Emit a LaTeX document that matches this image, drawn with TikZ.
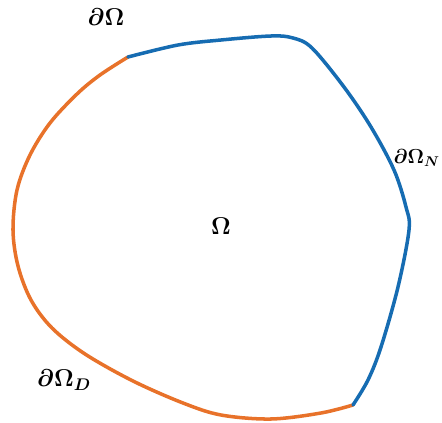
\documentclass[tikz,border=0pt]{standalone}
\usepackage{amsmath, amssymb, bm}
\usepackage{xcolor}
\usepackage{tikz}
\usetikzlibrary{positioning, calc}

\definecolor{dirorange}{RGB}{232,114,42}
\definecolor{neublue}{RGB}{22,108,178}

\begin{document}
\begin{tikzpicture}[
  x=0.03cm, y=-0.03cm,
  bnd/.style={line width=3pt, line cap=round, smooth, tension=0.55},
  dbnd/.style={bnd, dirorange},
  nbnd/.style={bnd, neublue},
  lbl/.style={font=\huge, inner sep=1pt},
]
\useasboundingbox (0,0) rectangle (442,423);

%% ---- junctions between the two boundary parts ----
\coordinate (jtop) at (128,57);
\coordinate (jbot) at (353,405);

%% ---- Dirichlet part (orange) ----
\draw[dbnd] plot coordinates {(jtop) (100,75) (77,94) (50,123) (30,155)
  (17,190) (13,230) (18,266) (31,300) (52,328) (85,354) (133,381)
  (183,403) (221,415) (271,419) (321,413) (jbot)};

%% ---- Neumann part (blue) ----
\draw[nbnd] plot coordinates {(jtop) (178,45) (221,40) (271,36) (293,38)
  (312,48) (344,87) (371,127) (394,170) (406,207) (409,230) (398,287)
  (381,347) (368,380) (jbot)};

%% ---- labels ----
\node[lbl] (dom)  at (221,226) {$\bm{\Omega}$};
\node[lbl] (bdry) at (106,17)  {$\bm{\partial\Omega}$};
\node[lbl, anchor=east, font=\LARGE] (bneu) at (441,158) {$\bm{\partial\Omega_N}$};
\node[lbl] (bdir) at (64,380)  {$\bm{\partial\Omega_D}$};
\end{tikzpicture}
\end{document}
